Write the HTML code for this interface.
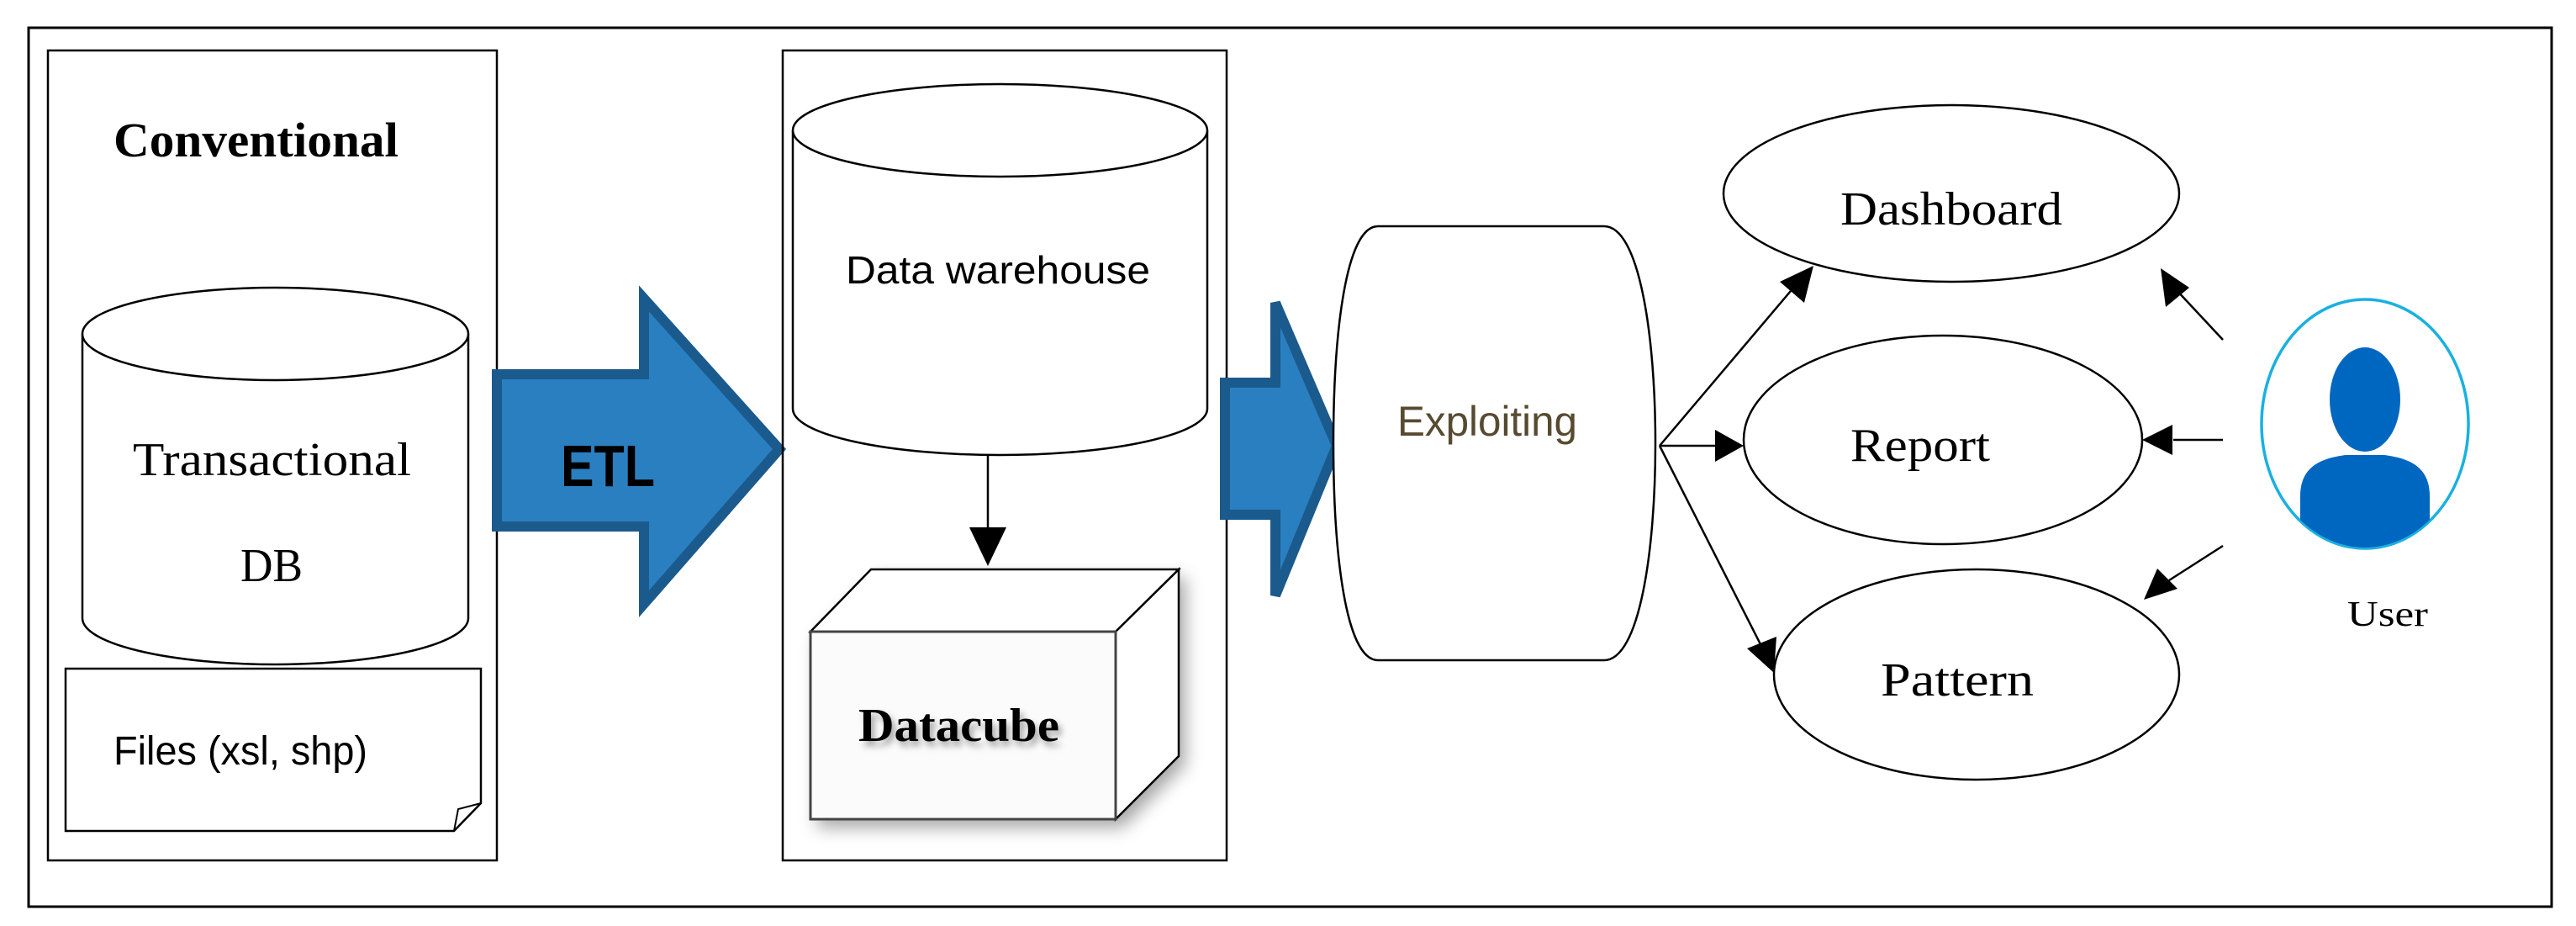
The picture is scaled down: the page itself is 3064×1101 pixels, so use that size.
<!DOCTYPE html>
<html><head><meta charset="utf-8"><style>html,body{margin:0;padding:0;background:#fff}svg{display:block}</style></head>
<body>
<svg width="3064" height="1101" viewBox="0 0 3064 1101" xmlns="http://www.w3.org/2000/svg">
<defs>
<filter id="sh" x="-20%" y="-20%" width="140%" height="140%"><feDropShadow dx="8" dy="10" stdDeviation="10" flood-color="#000" flood-opacity="0.35"/></filter>
<filter id="tsh" x="-10%" y="-30%" width="120%" height="160%"><feDropShadow dx="4" dy="6" stdDeviation="4" flood-color="#000" flood-opacity="0.35"/></filter>
<clipPath id="uc"><ellipse cx="2813" cy="504" rx="122" ry="147"/></clipPath>
</defs>
<rect width="3064" height="1101" fill="#fff"/>
<rect x="34" y="33" width="3001" height="1045" fill="none" stroke="#000" stroke-width="3"/>

<!-- Conventional box -->
<rect x="57" y="60" width="534" height="963" fill="none" stroke="#000" stroke-width="2.5"/>
<text x="135" y="186" font-family="Liberation Serif, serif" font-weight="bold" font-size="58" textLength="339" lengthAdjust="spacingAndGlyphs">Conventional</text>
<!-- cylinder -->
<path d="M98,397 L98,735 A229.5,55 0 0 0 557,735 L557,397" fill="#fff" stroke="#000" stroke-width="2.5"/>
<ellipse cx="327.5" cy="397" rx="229.5" ry="55" fill="#fff" stroke="#000" stroke-width="2.5"/>
<text x="158" y="565" font-family="Liberation Serif, serif" font-size="56" textLength="331" lengthAdjust="spacingAndGlyphs">Transactional</text>
<text x="286" y="691" font-family="Liberation Serif, serif" font-size="56" textLength="74" lengthAdjust="spacingAndGlyphs">DB</text>
<!-- files -->
<path d="M78,795 L572,795 L572,955 L540,988 L78,988 Z" fill="#fff" stroke="#000" stroke-width="2.5"/>
<path d="M540,988 L545,962 L572,955" fill="none" stroke="#000" stroke-width="2"/>
<text x="135" y="909" font-family="Liberation Sans, sans-serif" font-size="48" textLength="302" lengthAdjust="spacingAndGlyphs">Files (xsl, shp)</text>

<!-- ETL arrow -->
<polygon points="591,445 766,445 766,355 927,534 766,718 766,626 591,626" fill="#2a7fc0" stroke="#1b5a8c" stroke-width="12" stroke-linejoin="miter"/>
<text x="667" y="578" font-family="Liberation Sans, sans-serif" font-weight="bold" font-size="70" textLength="112" lengthAdjust="spacingAndGlyphs">ETL</text>

<!-- DW box -->
<rect x="931" y="60" width="528" height="963" fill="none" stroke="#000" stroke-width="2.5"/>
<path d="M943,155 L943,486 A246.5,55 0 0 0 1436,486 L1436,155" fill="#fff" stroke="#000" stroke-width="2.5"/>
<ellipse cx="1189.5" cy="155" rx="246.5" ry="55" fill="#fff" stroke="#000" stroke-width="2.5"/>
<text x="1006" y="337" font-family="Liberation Sans, sans-serif" font-size="46" textLength="362" lengthAdjust="spacingAndGlyphs">Data warehouse</text>
<line x1="1175" y1="541" x2="1175" y2="630" stroke="#000" stroke-width="2.5"/>
<polygon points="1153,627 1197,627 1175,673" fill="#000"/>
<!-- datacube -->
<g filter="url(#sh)">
<polygon points="964,751 1036,677 1402,677 1402,899 1327,974 964,974" fill="#fff"/>
</g>
<polygon points="964,751 1036,677 1402,677 1327,751" fill="#fff" stroke="#000" stroke-width="2.5"/>
<polygon points="1327,751 1402,677 1402,899 1327,974" fill="#fff" stroke="#000" stroke-width="2.5"/>
<rect x="964" y="751" width="363" height="223" fill="#fbfbfb" stroke="#444" stroke-width="3"/>
<text x="1021" y="881" font-family="Liberation Serif, serif" font-weight="bold" font-size="56" textLength="239" lengthAdjust="spacingAndGlyphs" filter="url(#tsh)">Datacube</text>

<!-- arrow 2 -->
<polygon points="1457,455 1517,455 1517,360 1590,530 1517,708 1517,612 1457,612" fill="#2a7fc0" stroke="#1b5a8c" stroke-width="12"/>

<!-- Exploiting -->
<path d="M1639,269 L1908,269 C1950,269 1969,400 1969,527 C1969,655 1950,785 1908,785 L1639,785 C1600,785 1586,655 1586,527 C1586,400 1600,269 1639,269 Z" fill="#fff" stroke="#000" stroke-width="2.5"/>
<text x="1662" y="518" font-family="Liberation Sans, sans-serif" font-size="50" fill="#574a30" textLength="214" lengthAdjust="spacingAndGlyphs">Exploiting</text>

<!-- ellipses -->
<ellipse cx="2321" cy="230" rx="271" ry="105" fill="#fff" stroke="#000" stroke-width="2.5"/>
<text x="2189" y="267" font-family="Liberation Serif, serif" font-size="56" textLength="264" lengthAdjust="spacingAndGlyphs">Dashboard</text>
<ellipse cx="2311" cy="523" rx="237" ry="124" fill="#fff" stroke="#000" stroke-width="2.5"/>
<text x="2201" y="548" font-family="Liberation Serif, serif" font-size="56" textLength="166" lengthAdjust="spacingAndGlyphs">Report</text>
<ellipse cx="2351" cy="802" rx="241" ry="125" fill="#fff" stroke="#000" stroke-width="2.5"/>
<text x="2237" y="827" font-family="Liberation Serif, serif" font-size="56" textLength="182" lengthAdjust="spacingAndGlyphs">Pattern</text>

<!-- connectors from Exploiting -->
<g stroke="#000" stroke-width="2.5" fill="none">
<line x1="1974" y1="530" x2="2135" y2="340"/>
<line x1="1974" y1="530" x2="2040" y2="530"/>
<line x1="1974" y1="530" x2="2096" y2="770"/>
<line x1="2644" y1="404" x2="2588" y2="344"/>
<line x1="2644" y1="523" x2="2585" y2="523"/>
<line x1="2644" y1="649" x2="2580" y2="690"/>
</g>
<g fill="#000">
<polygon points="2157,316 2146,360 2117,335"/>
<polygon points="2074,530 2040,511 2040,549"/>
<polygon points="2110,800 2078,771 2113,757"/>
<polygon points="2570,319 2604,342 2576,365"/>
<polygon points="2548,523 2584,505 2584,541"/>
<polygon points="2550,713 2566,676 2590,700"/>
</g>

<!-- User icon -->
<ellipse cx="2813" cy="504" rx="123" ry="148" fill="#fff" stroke="#1ab0e0" stroke-width="3.5"/>
<g clip-path="url(#uc)" fill="#0067c0">
<ellipse cx="2813" cy="475" rx="42" ry="62"/>
<path d="M2736,660 L2736,590 C2736,555 2760,545 2790,541 L2836,541 C2866,545 2890,555 2890,590 L2890,660 Z"/>
</g>
<text x="2792" y="744" font-family="Liberation Serif, serif" font-size="42" textLength="96" lengthAdjust="spacingAndGlyphs">User</text>
</svg>
</body></html>
